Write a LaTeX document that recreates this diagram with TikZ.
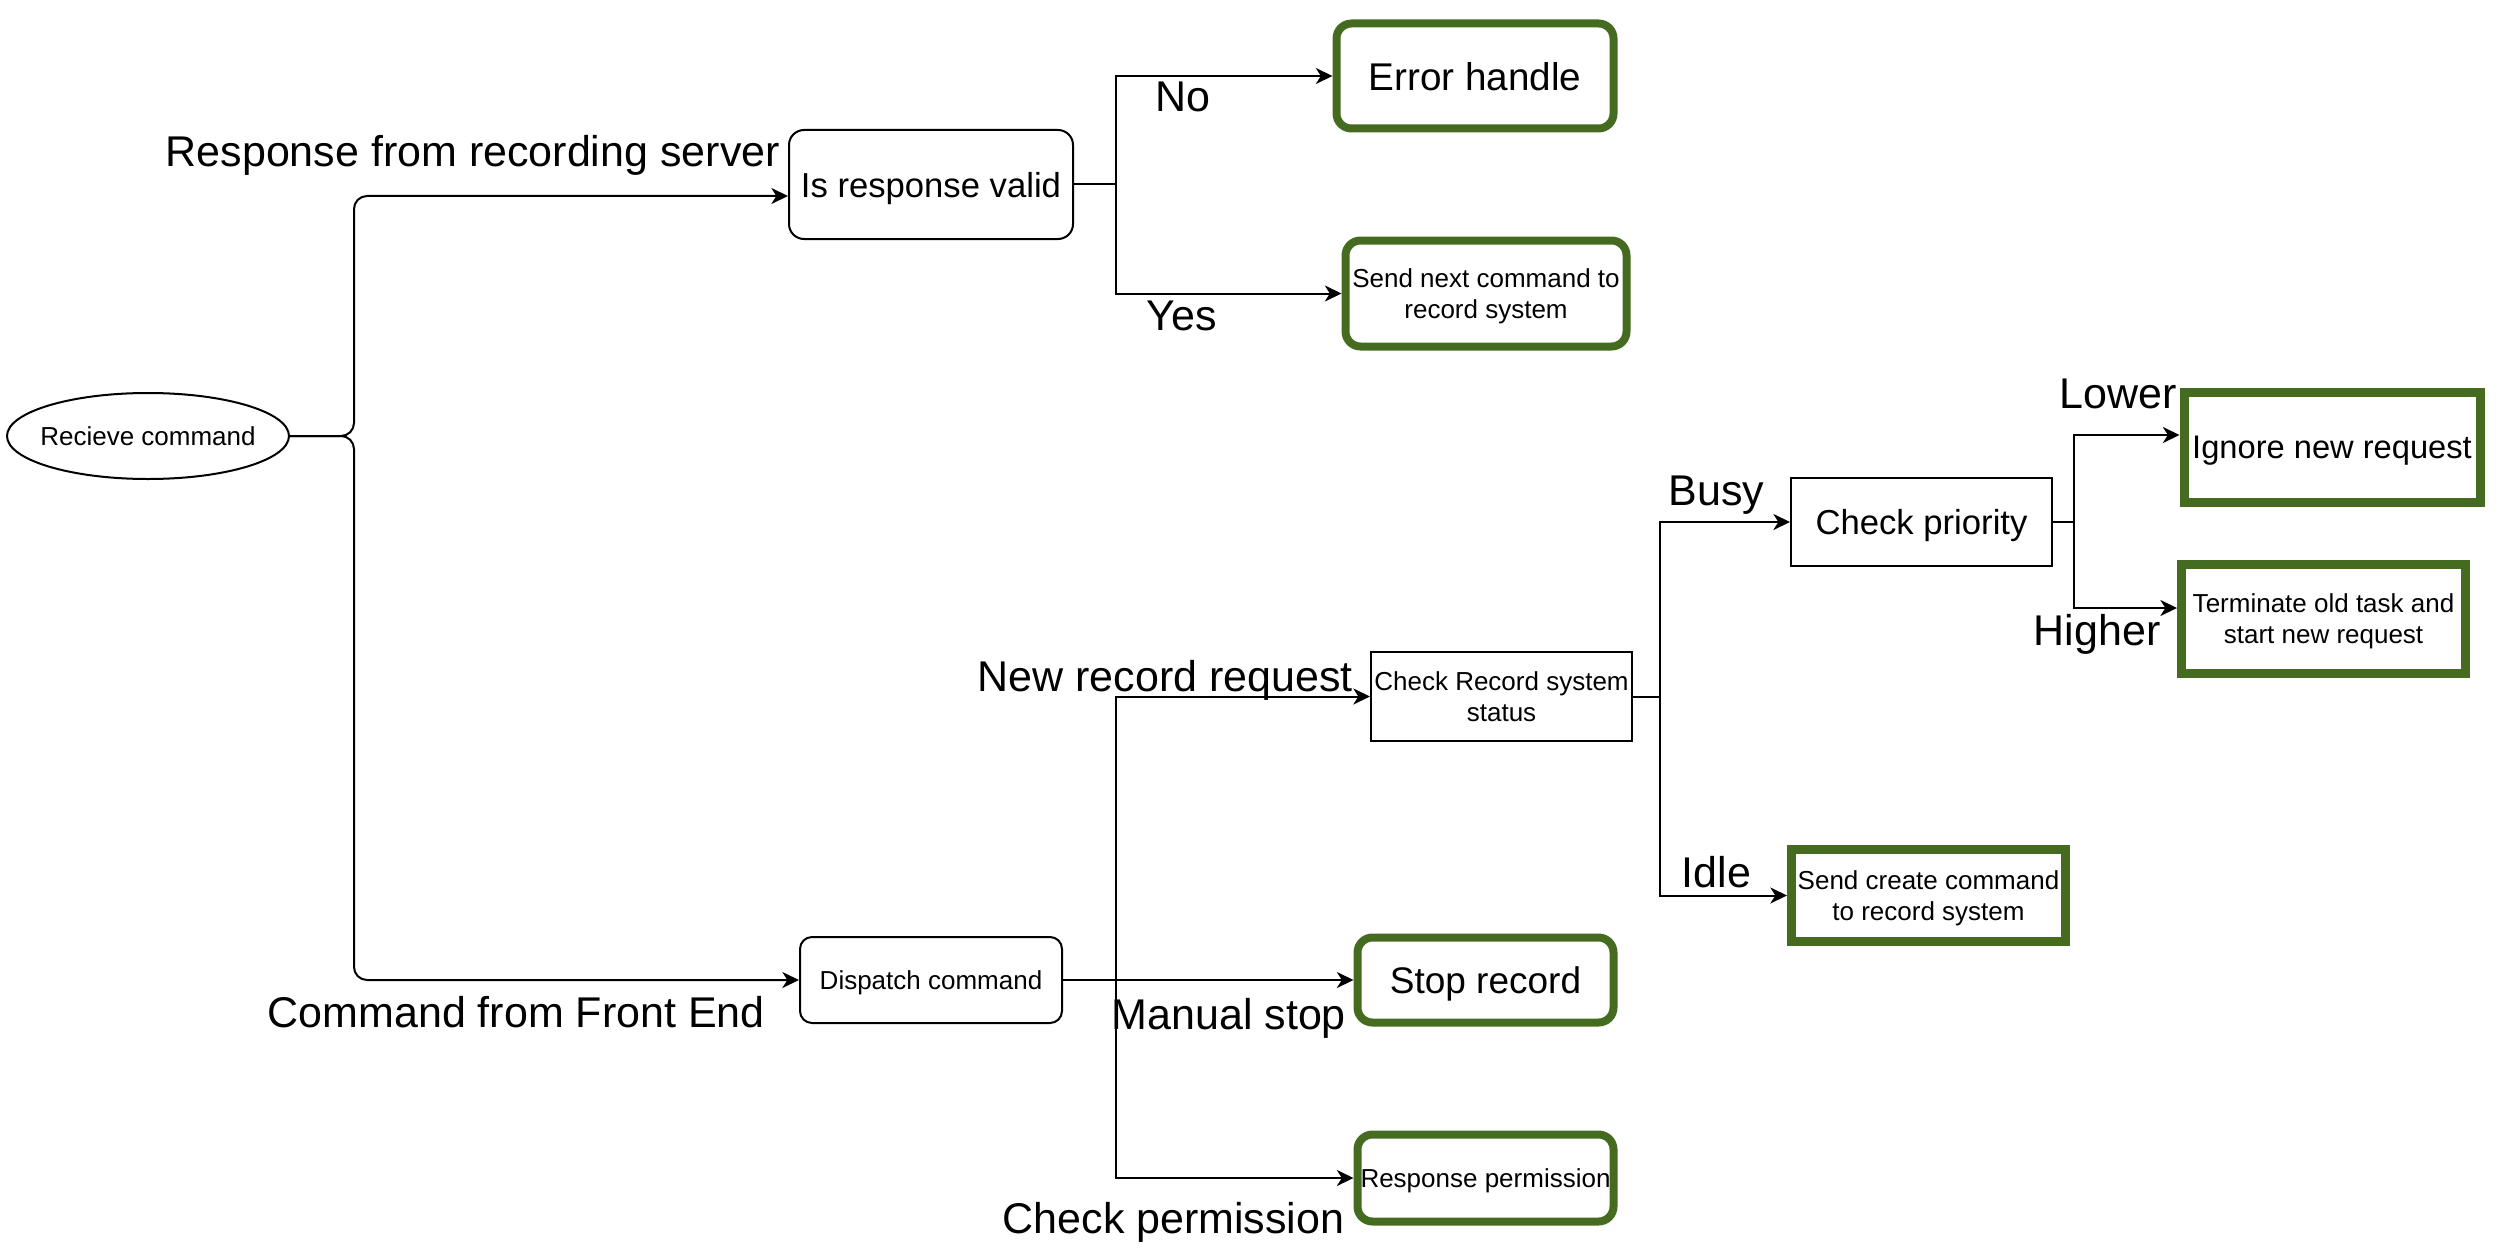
\documentclass[tikz,border=0pt]{standalone}
\usepackage{fontspec}
\setmainfont{Liberation Sans}
\usetikzlibrary{shapes.geometric,arrows.meta,calc}
\definecolor{okgreen}{RGB}{68,107,31}
\newdimen\pxu \pxu=0.3pt
\tikzset{
  conn/.style={draw=black, line width=0.6pt, -{Stealth[length=5pt,width=4.8pt,inset=1.5pt]}},
  lbl/.style={inner sep=0pt, anchor=base west, font=\fontsize{12.9pt}{15pt}\selectfont},
  small/.style={font=\fontsize{7.8pt}{9.3pt}\selectfont, align=center},
  whitebox/.style={draw=black, line width=0.6pt, rectangle, inner sep=0pt, align=center, text depth=0pt},
  greenbox/.style={draw=okgreen, line width=2.4pt, rectangle, inner sep=0pt, align=center, text depth=0pt},
  greensharp/.style={draw=okgreen, line width=2.7pt, rectangle, inner sep=0pt, align=center, text depth=0pt},
}
\begin{document}
\begin{tikzpicture}[x=0.3pt, y=-0.3pt]
\useasboundingbox (0,0) rectangle (2502,1252);
% nodes
\node[ellipse, draw=black, line width=0.6pt, inner xsep=-3pt, inner ysep=0pt, minimum width=282\pxu, minimum height=86\pxu, small] (ell) at (148,436) {Recieve command};
\node[whitebox, rounded corners=4.5pt, minimum width=284\pxu, minimum height=109\pxu, font=\fontsize{10.4pt}{12pt}\selectfont] (resp) at (931,184.5) {Is response valid};
\node[whitebox, rounded corners=3.6pt, minimum width=262\pxu, minimum height=86\pxu, small] (disp) at (931,980) {Dispatch command};
\node[greenbox, rounded corners=4.5pt, minimum width=277\pxu, minimum height=105\pxu, font=\fontsize{11.6pt}{14pt}\selectfont] (err) at (1475,76) {Error handle};
\node[greenbox, rounded corners=4.5pt, minimum width=281\pxu, minimum height=106\pxu, small] (sendnext) at (1486,293.5) {Send next command to\\record system};
\node[whitebox, minimum width=261\pxu, minimum height=89\pxu, small] (crs) at (1501.5,696.5) {Check Record system\\status};
\node[greenbox, rounded corners=4.5pt, minimum width=256\pxu, minimum height=85\pxu, font=\fontsize{11.1pt}{13pt}\selectfont] (stop) at (1485.5,980) {Stop record};
\node[greenbox, rounded corners=4.5pt, minimum width=256\pxu, minimum height=87\pxu, small] (perm) at (1485.5,1178) {Response permission};
\node[whitebox, minimum width=261\pxu, minimum height=88\pxu, font=\fontsize{10.4pt}{12pt}\selectfont] (prio) at (1921.5,522) {Check priority};
\node[greensharp, minimum width=274\pxu, minimum height=92\pxu, small] (create) at (1928.5,895.5) {Send create command\\to record system};
\node[greensharp, minimum width=296\pxu, minimum height=110\pxu, font=\fontsize{9.8pt}{12pt}\selectfont] (ignore) at (2332,447) {Ignore new request};
\node[greensharp, minimum width=284\pxu, minimum height=109\pxu, small] (term) at (2323.5,619) {Terminate old task and\\start new request};
% junctions
\coordinate (jb) at (354,436);
\coordinate (jr) at (1116,184.5);
\coordinate (jd) at (1116,980);
\coordinate (jc) at (1660,696.5);
\coordinate (jp) at (2074,522);
\coordinate (respin) at ($(resp.west)+(0,11.5)$);
\coordinate (ignin) at ($(ignore.west)+(0,-12)$);
\coordinate (termin) at ($(term.west)+(0,-11)$);
% connectors
\draw[conn, rounded corners=3.9pt] (ell.east) -- (jb) -- (jb |- respin) -- (respin);
\draw[conn, rounded corners=3.9pt] (ell.east) -- (jb) -- (jb |- disp.west) -- (disp.west);
\draw[conn] (resp.east) -- (jr) |- (err.west);
\draw[conn] (resp.east) -- (jr) |- (sendnext.west);
\draw[conn] (disp.east) -- (jd) |- (crs.west);
\draw[conn] (disp.east) -- (stop.west);
\draw[conn] (disp.east) -- (jd) |- (perm.west);
\draw[conn] (crs.east) -- (jc) |- (prio.west);
\draw[conn] (crs.east) -- (jc) |- (create.west);
\draw[conn] (prio.east) -- (jp) |- (ignin);
\draw[conn] (prio.east) -- (jp) |- (termin);
% labels
\node[lbl] (l1) at (165,167) {Response from recording server};
\node[lbl] (l2) at (1155,112) {No};
\node[lbl] (l3) at (1146,330) {Yes};
\node[lbl] (l4) at (2059,408) {Lower};
\node[lbl] (l5) at (1668,505) {Busy};
\node[lbl] (l6) at (2033,645) {Higher};
\node[lbl] (l7) at (977,691) {New record request};
\node[lbl] (l8) at (1681,887) {Idle};
\node[lbl] (l9) at (1111,1029) {Manual stop};
\node[lbl] (l10) at (1002,1233) {Check permission};
\node[lbl] (l11) at (267,1027) {Command from Front End};
\end{tikzpicture}
\end{document}
